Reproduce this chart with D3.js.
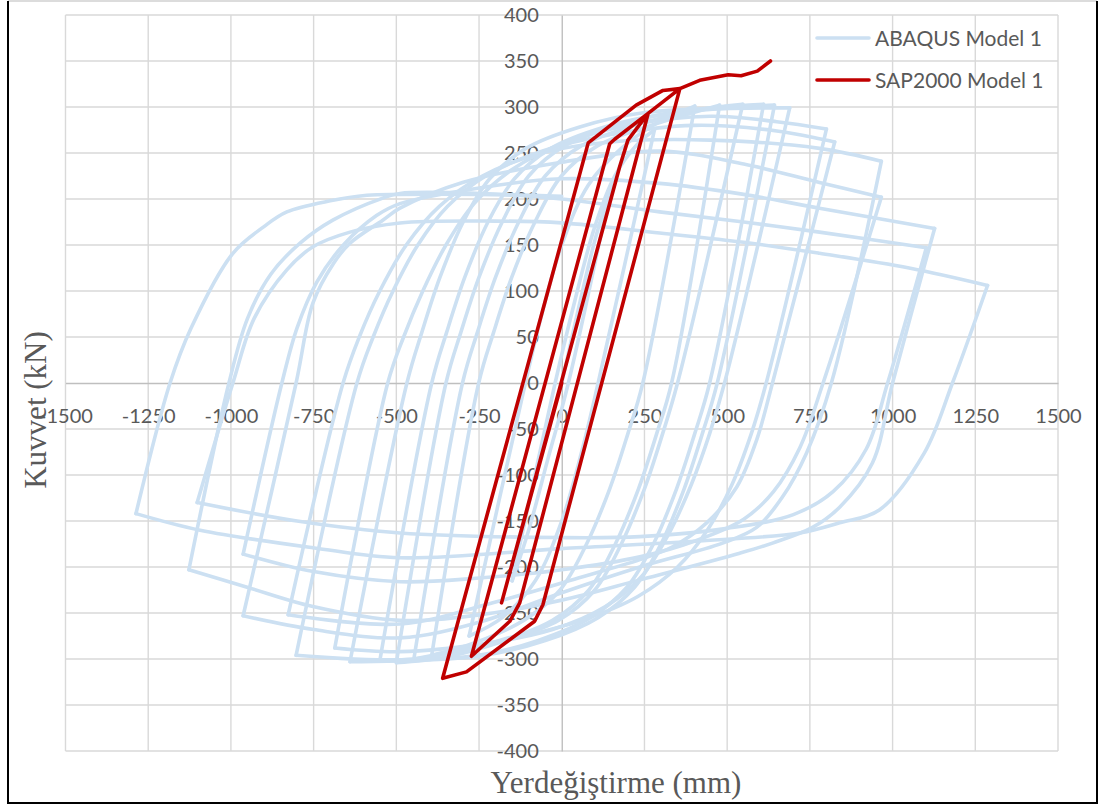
<!DOCTYPE html>
<html>
<head>
<meta charset="utf-8">
<script src="https://cdn.jsdelivr.net/npm/d3@7/dist/d3.min.js"></script>
<style>
  html, body { margin: 0; padding: 0; background: #fff; }
  svg { display: block; }
</style>
</head>
<body>
<div id="grafik"></div>
<script>
const xTicks = [-1500, -1250, -1000, -750, -500, -250, 0, 250, 500, 750, 1000, 1250, 1500];
const yTicks = [-400, -350, -300, -250, -200, -150, -100, -50, 0, 50, 100, 150, 200, 250, 300, 350, 400];
const seriesNames = ["ABAQUS Model 1", "SAP2000 Model 1"];
const xTitle = "Yerdeğiştirme (mm)";
const yTitle = "Kuvvet (kN)";

// ABAQUS: [yerdeğiştirme mm, kuvvet kN]
const abaqusModel1 = [
  [0, 0], [50, 80], [100, 155], [150, 215],
  [20, 0], [-40, -80], [-100, -160], [-150, -215],
  [-20, 0], [40, 90], [100, 170], [160, 225], [230, 260], [280, 275],
  [110, 0], [60, -75], [0, -150], [-80, -215], [-180, -255], [-280, -275],
  [-110, 0], [-60, 75], [0, 150], [80, 215], [180, 255], [300, 285], [402, 301],
  [245, 0], [200, -55], [145, -115], [75, -175], [-5, -225], [-115, -258], [-260, -282], [-393, -296],
  [-251, 0], [-206, 55], [-151, 115], [-81, 175], [-1, 225], [109, 258], [269, 280], [477, 302],
  [332, 0], [287, -55], [232, -115], [162, -175], [82, -225], [-28, -258], [-188, -280], [-447, -300],
  [-300, 0], [-255, 55], [-200, 115], [-130, 175], [-50, 225], [60, 258], [220, 280], [400, 296], [547, 303],
  [350, 0], [305, -55], [250, -115], [180, -175], [100, -225], [-10, -258], [-170, -280], [-350, -298], [-500, -304],
  [-350, 0], [-305, 55], [-250, 115], [-180, 175], [-100, 225], [10, 258], [170, 280], [350, 295], [610, 303],
  [447, 0], [402, -55], [347, -115], [277, -175], [197, -222], [87, -255], [-73, -280], [-253, -296], [-550, -302],
  [-393, 0], [-348, 55], [-293, 115], [-223, 175], [-143, 222], [-33, 255], [127, 278], [307, 292], [643, 302],
  [470, 0], [425, -55], [370, -115], [300, -175], [220, -222], [110, -255], [-50, -280], [-250, -297], [-640, -303],
  [-468, 0], [-423, 55], [-368, 115], [-298, 175], [-218, 222], [-108, 255], [52, 278], [252, 294], [689, 299],
  [492, 0], [447, -55], [392, -110], [322, -165], [242, -210], [132, -243], [-28, -268], [-228, -283], [-489, -292], [-686, -288],
  [-526, 0], [-478, 50], [-420, 100], [-350, 150], [-265, 195], [-150, 232], [0, 260], [200, 280], [450, 290], [650, 284], [800, 276],
  [618, 0], [573, -55], [515, -110], [440, -160], [350, -200], [230, -232], [60, -258], [-150, -278], [-450, -300], [-803, -296],
  [-619, 0], [-570, 50], [-510, 100], [-435, 150], [-345, 192], [-230, 225], [-60, 252], [150, 270], [400, 280], [650, 274], [825, 262],
  [637, 0], [589, -62], [529, -113], [438, -152], [335, -178], [236, -192], [50, -212], [-200, -238], [-489, -262], [-827, -252],
  [-661, 0], [-612, 50], [-550, 100], [-470, 150], [-370, 192], [-240, 225], [-60, 250], [150, 262], [450, 264], [779, 255], [966, 241],
  [815, 0], [740, -76], [667, -124], [589, -157], [486, -174], [236, -200], [0, -228], [-250, -260], [-489, -277], [-750, -268], [-963, -253],
  [-803, 0], [-752, 87], [-690, 130], [-640, 152], [-541, 177], [-489, 190], [-300, 218], [0, 240], [296, 252], [550, 238], [779, 218], [966, 202],
  [790, 0], [720, -70], [640, -118], [550, -148], [400, -172], [236, -189], [0, -203], [-250, -212], [-489, -216], [-750, -205], [-963, -186],
  [-846, 0], [-800, 60], [-740, 110], [-660, 150], [-560, 182], [-489, 195], [-250, 212], [0, 222], [296, 217], [550, 205], [779, 190], [1127, 168],
  [1000, 0], [939, -87], [840, -135], [758, -157], [637, -174], [538, -185], [236, -214], [0, -236], [-250, -252], [-489, -258], [-752, -243], [-951, -222], [-1127, -203],
  [-1006, 0], [-950, 70], [-880, 118], [-791, 152], [-692, 177], [-541, 201], [-489, 206], [-250, 206], [0, 200], [296, 186], [550, 175], [779, 164], [1102, 147],
  [985, 0], [920, -72], [820, -118], [700, -143], [500, -158], [236, -167], [0, -168], [-489, -163], [-800, -150], [-1102, -130],
  [-994, 0], [-930, 70], [-831, 123], [-752, 148], [-640, 164], [-489, 174], [-200, 176], [0, 174], [296, 163], [550, 153], [779, 141], [1050, 125], [1287, 106],
  [1181, 0], [1096, -76], [960, -138], [840, -152], [719, -163], [400, -172], [0, -180], [-489, -190], [-752, -179], [-1093, -160], [-1287, -142],
  [-1184, 0], [-1120, 60], [-994, 141], [-900, 170], [-831, 186], [-700, 198], [-589, 204], [-489, 205], [-250, 205], [0, 203]
];

// SAP2000: [yerdeğiştirme mm, kuvvet kN]
const sap2000Model1 = [
  [0, 0], [-182, -239], [175, 235], [200, 264], [261, 293],
  [-127, -239], [-157, -259], [-273, -297],
  [145, 260], [160, 265], [261, 293], [357, 320],
  [-57, -241], [-82, -259], [-288, -314], [-360, -321],
  [80, 261], [225, 302], [306, 318], [357, 320], [417, 329], [503, 335], [542, 334], [591, 339], [631, 350]
];

const WIDTH = 1103;
const HEIGHT = 807;
const PLOT = { left: 65.5, right: 1058, top: 15, bottom: 751 };
const COLORS = ["#CCE0F2", "#C00000"];
const GRID = "#D9D9D9";
const TEXT = "#595959";

// split a hysteresis path into half cycles at the turning points,
// so that the smoothing keeps the peak corners sharp
function halfCycles(rows) {
  const parts = [];
  let current = [rows[0]];
  let dir = 0;
  for (let i = 1; i < rows.length; i++) {
    const d = Math.sign(rows[i][0] - rows[i - 1][0]);
    if (dir !== 0 && d !== 0 && d !== dir) {
      parts.push(current);
      current = [rows[i - 1]];
    }
    if (d !== 0) dir = d;
    current.push(rows[i]);
  }
  parts.push(current);
  return parts;
}

const svg = d3.select("#grafik")
  .append("svg")
  .attr("width", WIDTH)
  .attr("height", HEIGHT);

const x = d3.scaleLinear().domain([-1500, 1500]).range([PLOT.left, PLOT.right]);
const y = d3.scaleLinear().domain([-400, 400]).range([PLOT.bottom, PLOT.top]);

// çerçeve
svg.append("line").attr("x1", 8).attr("x2", 1097).attr("y1", 1).attr("y2", 1)
  .attr("stroke", "#D0D0D0").attr("stroke-width", 1.5);
svg.append("path")
  .attr("d", "M8,1V803H1097V1")
  .attr("fill", "none").attr("stroke", "#000").attr("stroke-width", 2);

// ızgara
svg.append("g")
  .selectAll("line")
  .data(xTicks.filter(d => d !== 0))
  .enter()
  .append("line")
  .attr("x1", d => x(d)).attr("x2", d => x(d))
  .attr("y1", PLOT.top).attr("y2", PLOT.bottom)
  .attr("stroke", GRID).attr("stroke-width", 1.4);

svg.append("g")
  .selectAll("line")
  .data(yTicks.filter(d => d !== 0))
  .enter()
  .append("line")
  .attr("x1", PLOT.left).attr("x2", PLOT.right)
  .attr("y1", d => y(d)).attr("y2", d => y(d))
  .attr("stroke", GRID).attr("stroke-width", 1.4);

// eksenler sıfır çizgilerinde
const xAxis = svg.append("g")
  .attr("transform", `translate(0,${y(0)})`)
  .call(d3.axisBottom(x).tickValues(xTicks).tickSize(0).tickPadding(25.6).tickFormat(d => String(d)));
xAxis.select(".domain").attr("stroke", "#BFBFBF").attr("stroke-width", 1.4);

const yAxis = svg.append("g")
  .attr("transform", `translate(${x(0)},0)`)
  .call(d3.axisLeft(y).tickValues(yTicks).tickSize(0).tickPadding(23).tickFormat(d => String(d)));
yAxis.select(".domain").attr("stroke", "#BFBFBF").attr("stroke-width", 1.4);

svg.selectAll(".tick text")
  .attr("fill", TEXT)
  .style("font-family", "Lato, 'Open Sans', sans-serif")
  .style("font-size", "20px");

// eksen başlıkları
svg.append("text")
  .attr("x", 616)
  .attr("y", 793)
  .attr("text-anchor", "middle")
  .attr("fill", TEXT)
  .style("font-family", "'Liberation Serif', 'Times New Roman', serif")
  .style("font-size", "31px")
  .text(xTitle);

svg.append("text")
  .attr("transform", "translate(46,410) rotate(-90)")
  .attr("text-anchor", "middle")
  .attr("fill", TEXT)
  .style("font-family", "'Liberation Serif', 'Times New Roman', serif")
  .style("font-size", "31px")
  .text(yTitle);

// seriler
const smooth = d3.line().x(d => x(d[0])).y(d => y(d[1])).curve(d3.curveCatmullRom.alpha(0.5));
const straight = d3.line().x(d => x(d[0])).y(d => y(d[1]));

svg.append("g")
  .selectAll("path")
  .data(halfCycles(abaqusModel1))
  .enter()
  .append("path")
  .attr("d", smooth)
  .attr("fill", "none")
  .attr("stroke", COLORS[0])
  .attr("stroke-width", 3.6)
  .attr("stroke-linejoin", "round")
  .attr("stroke-linecap", "round");

svg.append("path")
  .datum(sap2000Model1)
  .attr("d", straight)
  .attr("fill", "none")
  .attr("stroke", COLORS[1])
  .attr("stroke-width", 3.6)
  .attr("stroke-linejoin", "round")
  .attr("stroke-linecap", "round");

// lejant
const legend = svg.append("g").attr("transform", "translate(817,38)");
seriesNames.forEach((name, i) => {
  legend.append("line")
    .attr("x1", 0).attr("x2", 52)
    .attr("y1", i * 42).attr("y2", i * 42)
    .attr("stroke", COLORS[i])
    .attr("stroke-width", 3.6)
    .attr("stroke-linecap", "round");
  legend.append("text")
    .attr("x", 58)
    .attr("y", i * 42)
    .attr("dy", "0.36em")
    .attr("fill", TEXT)
    .style("font-family", "Lato, 'Open Sans', sans-serif")
    .style("font-size", "21px")
    .text(name);
});
</script>
</body>
</html>
